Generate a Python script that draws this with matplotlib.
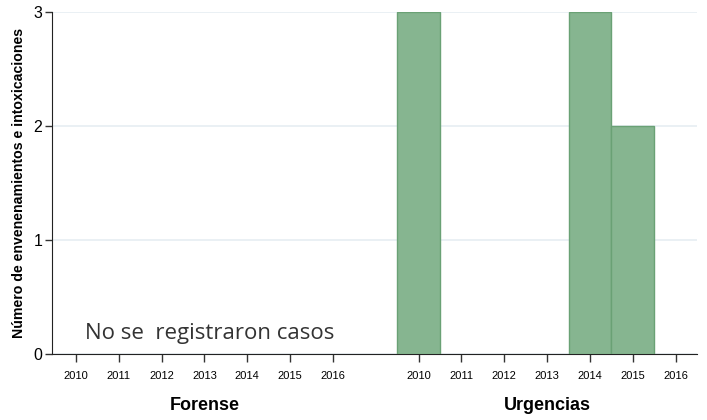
import matplotlib
matplotlib.use("Agg")
import matplotlib.pyplot as plt

years = [2010, 2011, 2012, 2013, 2014, 2015, 2016]
groups = ["Forense", "Urgencias"]
forense_vals = [0, 0, 0, 0, 0, 0, 0]
urgencias_vals = [3, 0, 0, 0, 3, 2, 0]
yticks = [0, 1, 2, 3]
note = "No se  registraron casos"
ylabel = "Número de envenenamientos e intoxicaciones"

plt.rcParams['font.family'] = ['Liberation Sans', 'DejaVu Sans']

fig = plt.figure(figsize=(7.07, 4.2), dpi=100)
ax = fig.add_axes([0.0735, 0.157, 0.9125, 0.814])

offsets = [0, 8]
xpos_all = []
labels_all = []
for g, vals, off in zip(groups, [forense_vals, urgencias_vals], offsets):
    xs = [off + i for i in range(len(years))]
    xpos_all += xs
    labels_all += [str(y) for y in years]
    bx = [x for x, v in zip(xs, vals) if v > 0]
    bv = [v for v in vals if v > 0]
    if bx:
        ax.bar(bx, bv, width=1.0, color="#86b590", edgecolor="#6aa175", linewidth=1.0, zorder=3)

ax.set_xlim(-0.56, 14.5)
ax.set_ylim(0, 3)
ax.set_yticks(yticks)
ax.set_yticklabels([str(v) for v in yticks], fontsize=11.5)
ax.set_xticks(xpos_all)
ax.set_xticklabels(labels_all, fontsize=8)
ax.tick_params(axis='x', length=6, width=1, pad=6, color='#333333')
ax.tick_params(axis='y', length=5, width=1, pad=2, color='#333333')
ax.grid(axis='y', color='#e6edf2', linewidth=1.2, zorder=0)
ax.set_axisbelow(True)
for s in ['top', 'right']:
    ax.spines[s].set_visible(False)
ax.spines['left'].set_color('#222222')
ax.spines['bottom'].set_color('#222222')

ax.set_ylabel(ylabel, fontsize=10.2, fontweight='bold')
ax.yaxis.set_label_coords(-0.041, 0.5)

for g, off in zip(groups, offsets):
    ax.text(off + 3, -0.45, g, transform=ax.transData, ha='center', va='center',
            fontsize=13, fontweight='bold')

ax.text(0.2, 0.18, note, fontsize=16, color='#333333', ha='left', va='center',
        family=['Open Sans', 'DejaVu Sans'])

fig.savefig("out.png", dpi=100)
